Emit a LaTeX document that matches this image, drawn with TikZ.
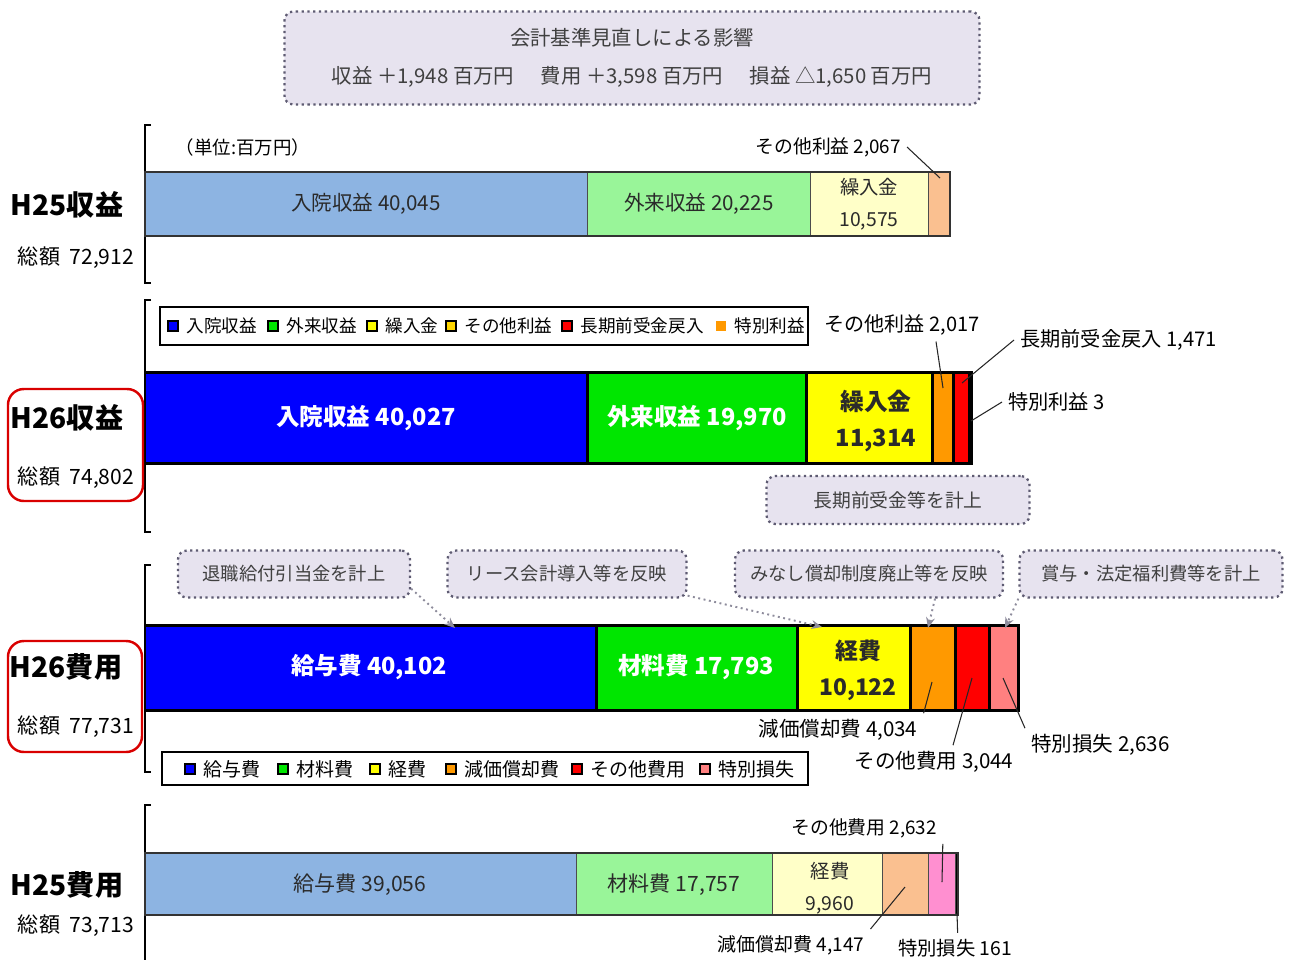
\documentclass[tikz,border=0pt]{standalone}
\usepackage{fontspec}
\setmainfont{Noto Sans CJK JP}
\usetikzlibrary{positioning,arrows.meta}
\definecolor{lav}{HTML}{E7E3EF}
\definecolor{dotgray}{HTML}{5E5B72}
\definecolor{lblue}{HTML}{8DB4E2}
\definecolor{lgreen}{HTML}{99F599}
\definecolor{lyellow}{HTML}{FFFFC8}
\definecolor{lorange}{HTML}{FAC090}
\definecolor{lpink}{HTML}{FF8FD0}
\definecolor{cblue}{HTML}{0000FF}
\definecolor{cgreen}{HTML}{00E600}
\definecolor{cyellow}{HTML}{FFFF00}
\definecolor{corange}{HTML}{FF9900}
\definecolor{cred}{HTML}{FF0000}
\definecolor{cpink}{HTML}{FF8080}
\definecolor{txtgray}{HTML}{2A2A2A}
\begin{document}
\begin{tikzpicture}[x=0.2mm,y=-0.2mm,
  fsz/.style={font=\fontsize{#1}{#1}\selectfont},
  bfs/.style={font=\fontsize{#1}{#1}\selectfont\bfseries},
  callout/.style={draw=dotgray,fill=lav,dotted,line width=1.3pt,rounded corners=5pt,inner sep=0pt,text=black!75},
  redbox/.style={draw=red!85!black,line width=1.4pt,rounded corners=9pt},
  seg25/.style={draw=black!70,line width=0.5pt},
  seg26/.style={draw=black,line width=1.7pt},
  leader/.style={draw=black!85,line width=0.6pt},
  note/.style={draw=dotgray!70,dotted,line width=1.1pt,-{Stealth[length=6pt,width=5pt]}},
  lgmk/.style={draw=black,line width=0.9pt,minimum size=5.5pt,inner sep=0pt},
  bracket/.style={line width=0.7pt}
]
\useasboundingbox (0,0) rectangle (1292,959);
\node[callout,minimum width=139mm,minimum height=18.6mm,align=center,font=\fontsize{11.6}{21.6}\selectfont] (impact) at (632,58)
  {会計基準見直しによる影響\\収益\ ＋1,948 百万円\hspace{1.3em}費用\ ＋3,598 百万円\hspace{1.3em}損益\ △1,650 百万円};
\draw[bracket] (151,125)--(145,125)--(145,283)--(151,283);
\node[fsz=10.5] (unit) at (243,147) {（単位:百万円）};
\foreach \a/\b/\c in {145/587/lblue,587/810/lgreen,810/928/lyellow,928/950/lorange}
  \draw[seg25,fill=\c] (\a,172) rectangle (\b,236);
\draw[line width=1.1pt,black!80] (145,172) rectangle (950,236);
\node[fsz=11.7,text=txtgray] (r25in) at (366,204) {入院収益 40,045};
\node[fsz=11.7,text=txtgray] (r25out) at (699,204) {外来収益 20,225};
\node[align=center,font=\fontsize{11}{18.2}\selectfont,text=txtgray] (r25tr) at (869,204) {繰入金\\10,575};
\node[fsz=10.7,anchor=east] (r25oth) at (907,147) {その他利益 2,067};
\coordinate (r25othp) at (940,178);
\draw[leader] (r25oth.east)--(r25othp);
\node[bfs=16] (h25r) at (67,205) {H25収益};
\node[fsz=12] (h25rt) at (76,258) {総額\ \ 72,912};
\draw[bracket] (151,300)--(145,300)--(145,532)--(151,532);
\draw[line width=0.9pt] (160,307) rectangle (808,345);
\foreach \x/\c/\t [count=\i] in {173/cblue/入院収益,273/cgreen/外来収益,372/cyellow/繰入金,451/corange!40!cyellow/その他利益,567/cred/長期前受金戻入}{
  \node[lgmk,fill=\c] (lm\i) at (\x,326) {};
  \node[fsz=10,right=1pt of lm\i] (lt\i) {\t};
}
\node[lgmk,draw=none,fill=corange] (lm6) at (721,326) {};
\node[fsz=10,right=1pt of lm6] (lt6) {特別利益};
\foreach \a/\b/\c in {145/587/cblue,587/806/cgreen,806/932/cyellow,932/953/corange,953/969/cred,969/971/corange}
  \draw[seg26,fill=\c] (\a,372) rectangle (\b,463);
\node[bfs=13.4,text=white] (r26in) at (366,418) {入院収益 40,027};
\node[bfs=13.4,text=white] (r26out) at (697,418) {外来収益 19,970};
\node[align=center,font=\fontsize{13.5}{21}\selectfont\bfseries,text=txtgray] (r26tr) at (876,421) {繰入金\\11,314};
\node[fsz=11.4] (r26oth) at (902,325) {その他利益 2,017};
\node[fsz=11.5,anchor=west] (r26lt) at (1014,340) {長期前受金戻入 1,471};
\node[fsz=11.5,anchor=west] (r26sp) at (1002,402) {特別利益 3};
\coordinate (r26othp) at (943,388);
\coordinate (r26ltp) at (962,383);
\coordinate (r26spp) at (971,421);
\draw[leader] ([xshift=6.8mm]r26oth.south)--(r26othp);
\draw[leader] (r26lt.west)--(r26ltp);
\draw[leader] (r26sp.west)--(r26spp);
\node[callout,minimum width=52.6mm,minimum height=9.6mm,fsz=10.7] (lt26note) at (898,500) {長期前受金等を計上};
\draw[redbox] (8,389) rectangle (143,501);
\node[bfs=16] (h26r) at (67,418) {H26収益};
\node[fsz=12] (h26rt) at (76,478) {総額\ \ 74,802};
\draw[bracket] (151,565)--(145,565)--(145,772)--(151,772);
\node[callout,minimum width=46.4mm,minimum height=9.4mm,fsz=10.4] (ret) at (294,574) {退職給付引当金を計上};
\node[callout,minimum width=47.8mm,minimum height=9.4mm,fsz=10.4] (lease) at (567,574) {リース会計導入等を反映};
\node[callout,minimum width=53.6mm,minimum height=9.4mm,fsz=10.4] (mina) at (869,574) {みなし償却制度廃止等を反映};
\node[callout,minimum width=52.6mm,minimum height=9.4mm,fsz=10.4] (bonus) at (1151,574) {賞与・法定福利費等を計上};
\foreach \a/\b/\c in {145/596/cblue,596/797/cgreen,797/910/cyellow,910/955/corange,955/989/cred,989/1018/cpink}
  \draw[seg26,fill=\c] (\a,625) rectangle (\b,710);
\coordinate (retp) at (455,628);
\coordinate (leasep) at (822,627);
\coordinate (minap) at (928,628);
\coordinate (bonusp) at (1005,628);
\draw[note] ([yshift=2mm]ret.south east)--(retp);
\draw[note] ([yshift=0.6mm]lease.south east)--(leasep);
\draw[note] ([xshift=13.2mm]mina.south)--(minap);
\draw[note] (bonus.south west)--(bonusp);
\node[bfs=13.4,text=white] (c26sal) at (369,667) {給与費 40,102};
\node[bfs=13.4,text=white] (c26mat) at (696,667) {材料費 17,793};
\node[align=center,font=\fontsize{13}{20.5}\selectfont\bfseries,text=txtgray] (c26exp) at (858,670) {経費\\10,122};
\node[fsz=11.7] (c26dep) at (838,730) {減価償却費 4,034};
\node[fsz=11.7] (c26oth) at (934,762) {その他費用 3,044};
\node[fsz=11.7,anchor=west] (c26sp) at (1025,745) {特別損失 2,636};
\coordinate (c26depp) at (932,682);
\coordinate (c26othp) at (972,678);
\coordinate (c26spp) at (1003,678);
\draw[leader] (c26dep.north east)--(c26depp);
\draw[leader] ([xshift=3.8mm]c26oth.north)--(c26othp);
\draw[leader] (c26sp.north west)--(c26spp);
\draw[redbox] (8,641) rectangle (142,752);
\node[bfs=16] (h26c) at (66,667) {H26費用};
\node[fsz=12] (h26ct) at (76,727) {総額\ \ 77,731};
\draw[line width=0.9pt] (162,752) rectangle (808,785);
\foreach \x/\c/\t [count=\i] in {190/cblue/給与費,283/cgreen/材料費,375/cyellow/経費,451/corange/減価償却費,577/cred/その他費用,705/cpink/特別損失}{
  \node[lgmk,fill=\c] (cm\i) at (\x,769) {};
  \node[fsz=10.8,right=1pt of cm\i] (ct\i) {\t};
}
\draw[bracket] (151,805)--(145,805)--(145,965);
\foreach \a/\b/\c in {145/576/lblue,576/772/lgreen,772/882/lyellow,882/928/lorange,928/955/lpink,955/958/black}
  \draw[seg25,fill=\c] (\a,853) rectangle (\b,915);
\draw[line width=1.1pt,black!80] (145,853) rectangle (958,915);
\node[fsz=12,text=txtgray] (c25sal) at (360,885) {給与費 39,056};
\node[fsz=12,text=txtgray] (c25mat) at (674,885) {材料費 17,757};
\node[align=center,font=\fontsize{11}{18.2}\selectfont,text=txtgray] (c25exp) at (830,888) {経費\\9,960};
\node[fsz=10.7] (c25oth) at (864,828) {その他費用 2,632};
\node[fsz=10.8] (c25dep) at (791,945) {減価償却費 4,147};
\node[fsz=11,anchor=west] (c25sp) at (892,948) {特別損失 161};
\coordinate (c25othp) at (942,882);
\coordinate (c25depp) at (905,887);
\coordinate (c25spp) at (957,913);
\draw[leader] (c25oth.south east)--(c25othp);
\draw[leader] (c25dep.north east)--(c25depp);
\draw[leader] ([xshift=0.5mm]c25sp.north)--(c25spp);
\node[bfs=16] (h25c) at (67,885) {H25費用};
\node[fsz=12] (h25ct) at (76,926) {総額\ \ 73,713};
\end{tikzpicture}
\end{document}
